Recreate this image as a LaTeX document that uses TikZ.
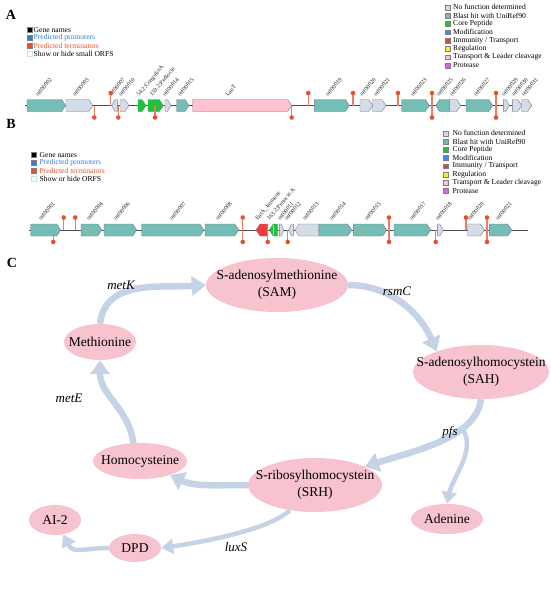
\documentclass[tikz,border=0pt]{standalone}
\usepackage{fontspec}
\setmainfont{Liberation Serif}
\usetikzlibrary{arrows.meta,shapes.geometric}
\definecolor{teal1}{HTML}{76BDB6}
\definecolor{graybl}{HTML}{D5DCE8}
\definecolor{coregreen}{HTML}{1BC43A}
\definecolor{modblue}{HTML}{3A8EE6}
\definecolor{immred}{HTML}{F23B3B}
\definecolor{regyel}{HTML}{F4F02A}
\definecolor{tpink}{HTML}{FFC2CE}
\definecolor{protmag}{HTML}{E35FE3}
\definecolor{termc}{HTML}{E5512C}
\definecolor{pinc}{HTML}{EE7B62}
\definecolor{promc}{HTML}{2F7FD6}
\definecolor{genedraw}{HTML}{6E7F86}
\definecolor{arrc}{HTML}{C6D3E6}
\definecolor{metpink}{HTML}{F7C3CF}
\definecolor{showgreen}{HTML}{BDEBD0}
\newcommand{\geneR}[4]{\pgfmathsetmacro{\ghd}{min(4,(#2-#1)*0.6)}\filldraw[gene,fill=#4] (#1,#3-6) -- ({#2-\ghd},#3-6) -- (#2,#3) -- ({#2-\ghd},#3+6) -- (#1,#3+6) -- cycle;}
\newcommand{\geneL}[4]{\pgfmathsetmacro{\ghd}{min(4,(#2-#1)*0.6)}\filldraw[gene,fill=#4] (#2,#3-6) -- ({#1+\ghd},#3-6) -- (#1,#3) -- ({#1+\ghd},#3+6) -- (#2,#3+6) -- cycle;}
\newcommand{\glab}[3]{\node[glab] at (#1,#2) {#3};}
\newcommand{\tup}[2]{\draw[pin] (#1,#2) -- (#1,#2-12.5); \fill[termc] (#1,#2-12.5) circle (2.3pt);}
\newcommand{\tdn}[2]{\draw[pin] (#1,#2) -- (#1,#2+12); \fill[termc] (#1,#2+12) circle (2.3pt);}
\begin{document}
\begin{tikzpicture}[x=1pt,y=-1pt,
  gene/.style={draw=genedraw,line width=0.4pt},
  glab/.style={rotate=50,anchor=base west,inner sep=0pt,font=\fontsize{6}{6}\selectfont,text=black!85},
  pin/.style={draw=pinc,line width=1.2pt},
  track/.style={draw=black!70,line width=0.8pt},
  panel/.style={font=\fontsize{14}{14}\selectfont\bfseries,inner sep=0pt},
  legsq/.style={draw=black!50,line width=0.3pt,minimum size=4.8pt,inner sep=0pt},
  legtxt/.style={anchor=west,inner sep=0pt,font=\fontsize{7.6}{8}\selectfont},
  met/.style={ellipse,fill=metpink,draw=none,inner sep=0pt},
  mtxt/.style={font=\fontsize{13.5}{17}\selectfont,align=center,inner sep=0pt},
  enz/.style={font=\fontsize{13}{15}\selectfont\itshape,inner sep=0pt},
  flow/.style={draw=arrc,line width=6.5pt,-{Triangle[length=14pt,width=19pt]}},
  flowthin/.style={draw=arrc,line width=4.5pt,-{Triangle[length=12pt,width=15pt]}}]
\useasboundingbox (0,0) rectangle (550,600);
\fill[white] (0,0) rectangle (550,600);
% ---------------- panel letters
\node[panel] (la) at (11,15) {A};
\node[panel] (lb) at (11,124) {B};
\node[panel] (lc) at (12,263) {C};
% ---------------- left legends
\foreach \yy/\sc/\tc/\tx in {30/black/black/{Gene names},38/promc/promc/{Predicted promoters},46/termc/termc/{Predicted terminators},54/white/black/{Show or hide small ORFS}}{
  \node[legsq,fill=\sc] at (30,\yy) {};
  \node[legtxt,text=\tc] at (33.5,\yy) {\tx};}
\node[legsq,fill=white,draw=showgreen] at (30,54) {};
\foreach \yy/\sc/\tc/\tx in {155/black/black/{Gene names},163/promc/promc/{Predicted promoters},171/termc/termc/{Predicted terminators},179/white/black/{Show or hide ORFS}}{
  \node[legsq,fill=\sc] at (34,\yy) {};
  \node[legtxt,text=\tc] at (39.5,\yy) {\tx};}
\node[legsq,fill=white,draw=showgreen] at (34,179) {};
% ---------------- right legends
\foreach \i/\sc/\tx in {0/graybl/{No function determined},1/teal1/{Blast hit with UniRef90},2/coregreen/{Core Peptide},3/modblue/{Modification},4/immred/{Immunity / Transport},5/regyel/{Regulation},6/tpink/{Transport \& Leader cleavage},7/protmag/{Protease}}{
  \node[legsq,fill=\sc] at (448,7.3+8.3*\i) {};
  \node[legtxt] at (453,7.3+8.3*\i) {\tx};
  \node[legsq,fill=\sc] at (445.5,133.3+8.2*\i) {};
  \node[legtxt] at (452.5,133.3+8.2*\i) {\tx};}
% ---------------- track A
\draw[track] (25,105.5) -- (532,105.5);
\geneR{27}{65.7}{105.5}{teal1}
\geneR{66}{92.7}{105.5}{graybl}
\geneL{111.7}{117.3}{105.5}{graybl}
\geneR{120}{129}{105.5}{graybl}
\geneR{138}{146}{105.5}{coregreen}
\geneR{148}{163.3}{105.5}{coregreen}
\geneR{165}{171}{105.5}{graybl}
\geneR{176.7}{189}{105.5}{teal1}
\geneR{192.7}{291.7}{105.5}{tpink}
\geneR{314.3}{349.3}{105.5}{teal1}
\geneR{360}{372.7}{105.5}{graybl}
\geneR{372.7}{386}{105.5}{graybl}
\geneR{401.7}{429.3}{105.5}{teal1}
\geneL{435.7}{449.3}{105.5}{teal1}
\geneR{449.3}{460.7}{105.5}{graybl}
\geneR{466}{492.7}{105.5}{teal1}
\geneR{503.3}{509.3}{105.5}{graybl}
\geneR{512.3}{521.7}{105.5}{graybl}
\geneR{521.7}{531.7}{105.5}{graybl}
\foreach \xx/\tx in {38/orf00002,75/orf00003,111/orf00007,121/orf00010,139/{54.2;CoagulinA},152/{159.2;Pediocin},165/orf00014,180/orf00015,228/LanT,328/orf00019,362/orf00020,376/orf00021,413/orf00023,439/orf00025,452/orf00026,476/orf00027,504/orf00029,514/orf00030,524/orf00031}{
  \glab{\xx}{97}{\tx}}
\tdn{94.3}{105.5} \tup{110.7}{105.5} \tdn{118.3}{105.5} \tdn{155}{105.5}
\tdn{291.7}{105.5} \tup{308.3}{105.5} \tup{353}{105.5} \tup{398}{105.5}
\tup{432}{105.5} \tdn{432}{105.5} \tup{496}{105.5} \tdn{496}{105.5}
% ---------------- track B
\draw[track] (29.3,230) -- (528.3,230);
\geneR{30.7}{60.7}{230}{teal1}
\geneR{81}{101.7}{230}{teal1}
\geneR{104}{136.7}{230}{teal1}
\geneR{141.7}{204}{230}{teal1}
\geneR{205}{238.7}{230}{teal1}
\geneL{256}{267.7}{230}{immred}
\geneL{269.3}{277.3}{230}{coregreen}
\draw[white!60!coregreen,line width=0.8pt] (273.5,224.6) -- (273.5,235.4);
\geneR{279.3}{283.7}{230}{graybl}
\geneL{288.7}{293.3}{230}{graybl}
\geneL{295}{318.5}{230}{graybl}
\geneR{319}{351.7}{230}{teal1}
\geneR{353.3}{386.7}{230}{teal1}
\geneR{394}{430.7}{230}{teal1}
\geneR{437.3}{443.3}{230}{graybl}
\geneR{467.7}{484.3}{230}{graybl}
\geneR{489.3}{511.7}{230}{teal1}
\foreach \xx/\tx in {41/orf00001,89/orf00004,116/orf00006,172/orf00007,218/orf00008,257.7/{EntA\_Immune},269.3/{163.2;Penocin A},280/orf00011,287/orf00012,305/orf00013,332/orf00014,367/orf00015,412/orf00017,438/orf00018,470/orf00020,498/orf00021}{
  \glab{\xx}{221}{\tx}}
\tdn{53.3}{230} \tup{63.7}{230} \tup{75.3}{230}
\tup{242.7}{230} \tdn{242.7}{230} \tdn{267.7}{230} \tdn{287.7}{230}
\tup{389}{230} \tdn{389}{230} \tdn{435.7}{230} \tup{466}{230}
\tup{487}{230} \tdn{487}{230}
% ---------------- panel C
\node[met,minimum width=142pt,minimum height=54pt] (sam) at (277,285) {};
\node[met,minimum width=136pt,minimum height=54pt] (sah) at (481,372) {};
\node[met,minimum width=134pt,minimum height=54pt] (srh) at (315,485) {};
\node[met,minimum width=72pt,minimum height=30pt] (ade) at (447,519) {};
\node[met,minimum width=94pt,minimum height=36pt] (homo) at (140,461) {};
\node[met,minimum width=72pt,minimum height=36pt] (meth) at (100,342) {};
\node[met,minimum width=52pt,minimum height=28pt] (dpd) at (135,548) {};
\node[met,minimum width=52pt,minimum height=30pt] (ai2) at (55,520) {};
\node[mtxt] (samt) at (sam) {S-adenosylmethionine\\(SAM)};
\node[mtxt] (saht) at (sah) {S-adenosylhomocystein\\(SAH)};
\node[mtxt] (srht) at (srh) {S-ribosylhomocystein\\(SRH)};
\node[mtxt] (adet) at (ade) {Adenine};
\node[mtxt] (homot) at (homo) {Homocysteine};
\node[mtxt] (metht) at (meth) {Methionine};
\node[mtxt] (dpdt) at (dpd) {DPD};
\node[mtxt] (ai2t) at (ai2) {AI-2};
\draw[flow] (meth.north) .. controls +(5,-45) and +(-45,3) .. (sam.west);
\draw[flow] (sam.east) .. controls +(45,0) and +(-15,-35) .. (sah.155);
\draw[flow] (sah.south) .. controls +(-5,40) and +(45,-15) .. (srh.20) coordinate[pos=0.3] (br);
\draw[flowthin] (br) .. controls +(15,20) and +(5,-25) .. (ade.north);
\draw[flow] (srh.west) .. controls +(-30,0) and +(25,12) .. (homo.-25);
\draw[flowthin] (srh.225) .. controls +(-20,20) and +(35,-5) .. (dpd.east);
\draw[flowthin] (dpd.west) .. controls +(-25,0) and +(10,20) .. (ai2.-60);
\draw[flow] (homo.110) .. controls +(-5,-35) and +(0,35) .. (meth.south);
\node[enz] (k1) at (121,285) {metK};
\node[enz] (k2) at (397,291) {rsmC};
\node[enz] (k3) at (450,432) {pfs};
\node[enz] (k4) at (236,547) {luxS};
\node[enz] (k5) at (69,398) {metE};
\end{tikzpicture}
\end{document}
